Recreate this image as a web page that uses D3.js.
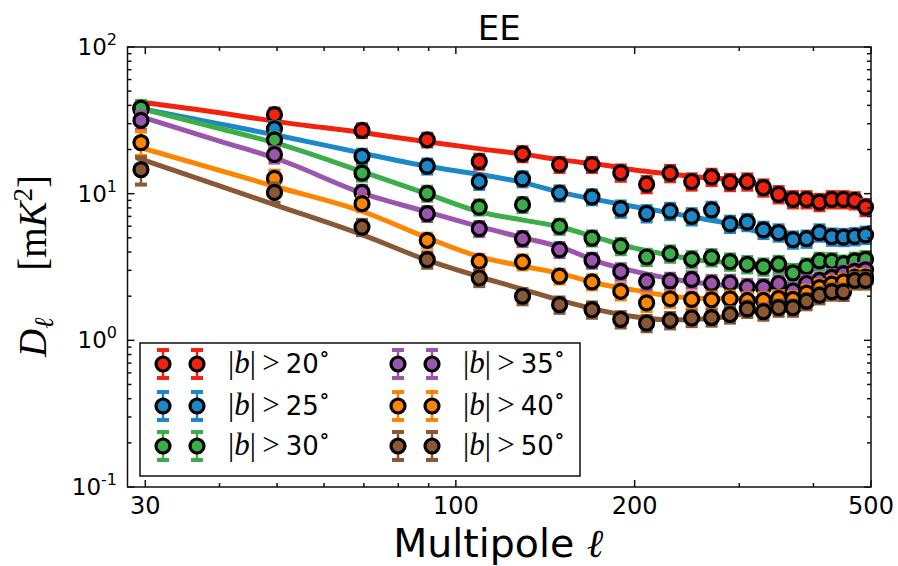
<!DOCTYPE html>
<html>
<head>
<meta charset="utf-8">
<script src="https://cdn.jsdelivr.net/npm/d3@7"></script>
<style>
  body { margin: 0; background: #fff; }
  text { fill: #000; }
</style>
</head>
<body>
<svg id="chart" width="898" height="566"></svg>
<script>
// Multipole bin centres
const ell = [29.5, 49.5, 69.5, 89.5, 109.5, 129.5, 149.5, 169.5, 189.5, 209.5, 229.5, 249.5,
             269.5, 289.5, 309.5, 329.5, 349.5, 369.5, 389.5, 409.5, 429.5, 449.5, 469.5, 489.5];

// Latitude cuts and colours
const cuts = ["20", "25", "30", "35", "40", "50"];
const colors = ["#f2230e", "#1c88c8", "#3cae49", "#9c55ae", "#ff8500", "#8b5835"];

// Measured band powers D_ell [mK^2]
const dB20 = [38.5, 34.6, 27.0, 23.3, 16.6, 18.7, 15.8, 15.8, 13.9, 11.6, 13.8, 12.1,
              13.0, 12.0, 12.1, 11.0, 9.9, 9.15, 9.15, 8.76, 9.15, 9.15, 9.0, 8.1];
const dB25 = [37.5, 27.7, 17.96, 15.4, 12.1, 12.6, 10.1, 9.5, 7.9, 7.34, 7.61, 7.0,
              7.75, 6.22, 6.40, 5.66, 5.43, 4.86, 4.93, 5.43, 5.09, 5.06, 5.12, 5.24];
const dB30 = [38.3, 23.3, 13.8, 10.05, 8.1, 8.41, 5.98, 4.98, 4.39, 3.70, 3.90, 3.57,
              3.68, 3.44, 3.30, 3.18, 3.31, 2.88, 3.18, 3.48, 3.46, 3.33, 3.48, 3.57];
const dB35 = [31.6, 18.5, 10.2, 7.31, 5.77, 4.93, 4.15, 3.51, 2.95, 2.53, 2.54, 2.60,
              2.45, 2.46, 2.31, 2.30, 2.44, 2.17, 2.44, 2.56, 2.69, 2.85, 2.95, 3.02];
const dB40 = [22.3, 12.7, 8.55, 4.81, 3.46, 3.42, 2.74, 2.50, 2.16, 1.80, 1.92, 1.90,
              1.89, 1.92, 1.87, 1.87, 1.93, 1.90, 2.10, 2.29, 2.42, 2.50, 2.70, 2.70];
const dB50 = [14.6, 10.2, 5.92, 3.55, 2.66, 2.00, 1.75, 1.62, 1.39, 1.31, 1.37, 1.42,
              1.43, 1.50, 1.64, 1.57, 1.67, 1.67, 1.85, 2.03, 2.15, 2.14, 2.56, 2.56];

// Fractional 1-sigma uncertainties
const eB20 = [0.10, 0.10, 0.10, 0.10, 0.11, 0.11, 0.11, 0.11, 0.12, 0.12, 0.12, 0.12,
              0.12, 0.12, 0.12, 0.12, 0.12, 0.12, 0.12, 0.12, 0.12, 0.12, 0.12, 0.12];
const eB25 = [0.11, 0.11, 0.11, 0.11, 0.11, 0.11, 0.11, 0.11, 0.12, 0.12, 0.12, 0.12,
              0.12, 0.12, 0.12, 0.12, 0.12, 0.12, 0.12, 0.12, 0.12, 0.12, 0.12, 0.12];
const eB30 = [0.12, 0.11, 0.11, 0.11, 0.11, 0.11, 0.11, 0.11, 0.12, 0.12, 0.12, 0.12,
              0.12, 0.12, 0.12, 0.12, 0.12, 0.12, 0.12, 0.12, 0.12, 0.12, 0.12, 0.12];
const eB35 = [0.14, 0.12, 0.11, 0.11, 0.11, 0.11, 0.11, 0.11, 0.12, 0.12, 0.12, 0.12,
              0.12, 0.12, 0.12, 0.12, 0.12, 0.12, 0.12, 0.12, 0.12, 0.12, 0.12, 0.12];
const eB40 = [0.19, 0.13, 0.11, 0.11, 0.11, 0.11, 0.11, 0.11, 0.12, 0.12, 0.12, 0.12,
              0.12, 0.12, 0.12, 0.12, 0.12, 0.12, 0.12, 0.12, 0.12, 0.12, 0.12, 0.12];
const eB50 = [0.21, 0.15, 0.12, 0.12, 0.12, 0.12, 0.12, 0.12, 0.12, 0.12, 0.12, 0.12,
              0.12, 0.12, 0.12, 0.12, 0.12, 0.12, 0.12, 0.12, 0.12, 0.12, 0.12, 0.12];

// Best-fit model curves
const modelEll = [29, 40, 50, 70, 90, 110, 130, 150, 175, 200, 230, 260, 290, 320, 350, 380, 420, 460, 500];
const mB20 = [42.5, 35.6, 31.0, 26.0, 22.5, 20.2, 18.6, 17.0, 15.8, 14.5, 13.6, 12.9, 12.5, 11.6, 9.8, 9.0, 8.8, 8.8, 8.7];
const mB25 = [38.5, 29.9, 25.0, 18.8, 15.3, 13.5, 11.9, 10.2, 9.0, 8.15, 7.4, 6.75, 6.2, 5.55, 5.1, 4.86, 4.93, 5.1, 5.35];
const mB30 = [38.7, 27.8, 22.0, 14.0, 9.9, 7.5, 6.6, 5.93, 4.94, 4.25, 3.8, 3.5, 3.4, 3.32, 3.27, 3.24, 3.40, 3.5, 3.62];
const mB35 = [34.2, 22.8, 17.3, 10.0, 7.46, 5.93, 5.0, 4.32, 3.4, 2.95, 2.63, 2.45, 2.36, 2.31, 2.32, 2.37, 2.54, 2.7, 2.9];
const mB40 = [21.0, 14.4, 11.1, 7.5, 4.96, 3.7, 3.2, 2.85, 2.42, 2.2, 2.0, 1.93, 1.92, 1.93, 1.98, 2.04, 2.18, 2.3, 2.47];
const mB50 = [17.6, 11.3, 8.3, 5.2, 3.49, 2.7, 2.22, 1.87, 1.6, 1.45, 1.38, 1.40, 1.46, 1.58, 1.70, 1.82, 2.05, 2.3, 2.56];

// Axis ticks
const xMajor = [30, 100, 200, 500];
const xMinor = [40, 50, 60, 70, 80, 90, 300, 400];
const yMajor = [0.1, 1, 10, 100];
const yMajorExp = ["-1", "0", "1", "2"];
const yMinor = [0.2, 0.3, 0.4, 0.5, 0.6, 0.7, 0.8, 0.9, 2, 3, 4, 5, 6, 7, 8, 9, 20, 30, 40, 50, 60, 70, 80, 90];

const data = [dB20, dB25, dB30, dB35, dB40, dB50];
const errs = [eB20, eB25, eB30, eB35, eB40, eB50];
const models = [mB20, mB25, mB30, mB35, mB40, mB50];

const svg = d3.select("#chart");
const L = 127.5, R = 871, T = 47, B = 487;
const x = d3.scaleLog().domain([28, 500]).range([L, R]);
const y = d3.scaleLog().domain([0.1, 100]).range([B, T]);

const SANS = "DejaVu Sans, sans-serif";
const SERIF = "Liberation Serif, DejaVu Serif, serif";

// Model curves
const line = d3.line().x(d => x(d[0])).y(d => y(d[1])).curve(d3.curveMonotoneX);
const plot = svg.append("g");
plot.append("defs").append("clipPath").attr("id", "clip")
  .append("rect").attr("x", L).attr("y", T).attr("width", R - L).attr("height", B - T);
const gLines = plot.append("g").attr("clip-path", "url(#clip)");
models.forEach((m, i) => {
  gLines.append("path")
    .datum(modelEll.map((l, j) => [l, m[j]]))
    .attr("d", line)
    .attr("fill", "none")
    .attr("stroke", colors[i])
    .attr("stroke-width", 5);
});

// Error bars with caps, then markers
function errorMark(g, cx, cy, lo, hi, color, r) {
  g.append("line").attr("x1", cx).attr("x2", cx).attr("y1", lo).attr("y2", hi)
    .attr("stroke", color).attr("stroke-width", 2.5);
  [lo, hi].forEach(yy => {
    g.append("line").attr("x1", cx - 6).attr("x2", cx + 6).attr("y1", yy).attr("y2", yy)
      .attr("stroke", color).attr("stroke-width", 4);
  });
  g.append("circle").attr("cx", cx).attr("cy", cy).attr("r", r)
    .attr("fill", color).attr("stroke", "#000").attr("stroke-width", 3.2);
}

data.forEach((s, i) => {
  const g = plot.append("g");
  s.forEach((v, j) => {
    const e = errs[i][j] * v;
    errorMark(g, x(ell[j]), y(v), y(v - e), y(v + e), colors[i], 7);
  });
});

// Frame and ticks (inward, all four sides)
const axes = svg.append("g").attr("stroke", "#111").attr("stroke-width", 1.5);
axes.append("rect").attr("x", L).attr("y", T).attr("width", R - L).attr("height", B - T)
  .attr("fill", "none");
function xt(v, len) {
  axes.append("line").attr("x1", x(v)).attr("x2", x(v)).attr("y1", B).attr("y2", B - len);
  axes.append("line").attr("x1", x(v)).attr("x2", x(v)).attr("y1", T).attr("y2", T + len);
}
function yt(v, len) {
  axes.append("line").attr("y1", y(v)).attr("y2", y(v)).attr("x1", L).attr("x2", L + len);
  axes.append("line").attr("y1", y(v)).attr("y2", y(v)).attr("x1", R).attr("x2", R - len);
}
xMajor.forEach(v => xt(v, 7));
xMinor.forEach(v => xt(v, 4));
yMajor.forEach(v => yt(v, 7));
yMinor.forEach(v => yt(v, 4));

// Tick labels
const xAxisLabels = svg.append("g").attr("font-family", SANS).attr("font-size", 24)
  .attr("text-anchor", "middle");
xMajor.forEach(v => {
  xAxisLabels.append("text").attr("x", x(v)).attr("y", 514).text(v);
});
const yAxisLabels = svg.append("g").attr("font-family", SANS).attr("font-size", 23)
  .attr("text-anchor", "end");
yMajor.forEach((v, i) => {
  const t = yAxisLabels.append("text").attr("x", 117).attr("y", y(v) + 8);
  t.append("tspan").text("10");
  t.append("tspan").attr("dy", -10).attr("font-size", 16).text(yMajorExp[i]);
});

// Title
svg.append("text").attr("x", (L + R) / 2).attr("y", 40).attr("text-anchor", "middle")
  .attr("font-family", SANS).attr("font-size", 34).text("EE");

// x label
const xl = svg.append("text").attr("x", (L + R) / 2 - 1).attr("y", 557).attr("text-anchor", "middle")
  .attr("font-family", SANS).attr("font-size", 39.5);
xl.append("tspan").text("Multipole ");
xl.append("tspan").attr("font-family", SERIF).attr("font-style", "italic").text("ℓ");

// y label
const yl = svg.append("text").attr("transform", "translate(46,266) rotate(-90)")
  .attr("text-anchor", "middle").attr("font-family", SERIF).attr("font-size", 39);
yl.append("tspan").attr("font-style", "italic").text("D");
yl.append("tspan").attr("font-style", "italic").attr("font-size", 27).attr("dy", 7).text("ℓ");
yl.append("tspan").attr("dy", -7).text("\u2003\u2009[m");
yl.append("tspan").attr("font-style", "italic").text("K");
yl.append("tspan").attr("font-size", 27).attr("dy", -14).text("2");
yl.append("tspan").attr("dy", 14).text("]");

// Legend
const leg = svg.append("g");
leg.append("rect").attr("x", 140).attr("y", 343).attr("width", 440).attr("height", 133)
  .attr("fill", "#fff").attr("stroke", "#111").attr("stroke-width", 1.5);
const legCols = [{ m1: 163, m2: 197, tx: 228 }, { m1: 398, m2: 432, tx: 463 }];
const legRows = [364, 406, 446];
cuts.forEach((c, i) => {
  const col = legCols[Math.floor(i / 3)];
  const ry = legRows[i % 3];
  [col.m1, col.m2].forEach(mx => errorMark(leg, mx, ry, ry + 14, ry - 14, colors[i], 7));
  const t = leg.append("text").attr("x", col.tx).attr("y", ry + 9)
    .attr("font-family", SERIF).attr("font-size", 31);
  t.append("tspan").text("|");
  t.append("tspan").attr("font-style", "italic").text("b");
  t.append("tspan").text("|\u2009>\u2009");
  t.append("tspan").attr("font-family", SANS).attr("font-size", 26).text(c);
  t.append("tspan").attr("font-size", 22).attr("dy", -12).text("\u2218");
});
</script>
</body>
</html>
